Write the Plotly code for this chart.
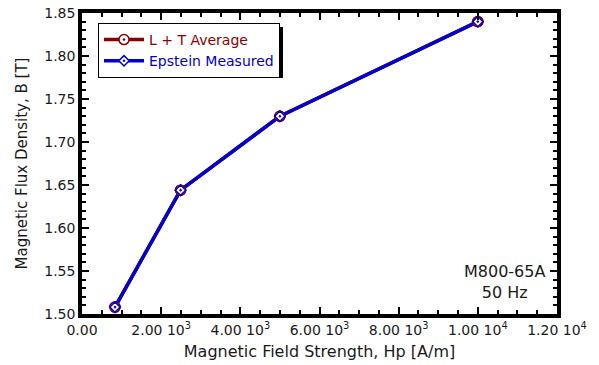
import plotly.graph_objects as go

# Data
H_lt = [833, 2490, 5000, 10000]
B_lt = [1.508, 1.644, 1.730, 1.840]
H_ep = [833, 2490, 5000, 10000]
B_ep = [1.508, 1.644, 1.730, 1.840]

x_tickvals = [0, 2000, 4000, 6000, 8000, 10000, 12000]
x_ticktext = ["0.00", "2.00 10<sup>3</sup>", "4.00 10<sup>3</sup>", "6.00 10<sup>3</sup>",
              "8.00 10<sup>3</sup>", "1.00 10<sup>4</sup>", "1.20 10<sup>4</sup>"]
y_tickvals = [1.50, 1.55, 1.60, 1.65, 1.70, 1.75, 1.80, 1.85]
y_ticktext = ["1.50", "1.55", "1.60", "1.65", "1.70", "1.75", "1.80", "1.85"]

RED = "#8B0000"
BLUE = "#0000CC"
TXT = "#1a1a1a"
FONT = "DejaVu Sans"

fig = go.Figure()
fig.add_trace(go.Scatter(x=H_lt, y=B_lt, mode="lines+markers",
                         name="<span style='color:%s'>L + T Average</span>" % RED,
                         line=dict(color=RED, width=3.5),
                         marker=dict(symbol="circle-dot", size=10, color="white",
                                     line=dict(color=RED, width=1.5))))
fig.add_trace(go.Scatter(x=H_ep, y=B_ep, mode="lines+markers",
                         name="<span style='color:%s'>Epstein Measured</span>" % BLUE,
                         line=dict(color=BLUE, width=3.5),
                         marker=dict(symbol="diamond-dot", size=8, color="white",
                                     line=dict(color=BLUE, width=1.5))))
fig.add_trace(go.Scatter(x=H_lt, y=B_lt, mode="markers", showlegend=False,
                         marker=dict(symbol="circle-dot", size=10, color="white",
                                     line=dict(color=RED, width=1.5))))
fig.add_trace(go.Scatter(x=H_ep, y=B_ep, mode="markers", showlegend=False,
                         marker=dict(symbol="diamond-dot", size=8, color="white",
                                     line=dict(color=BLUE, width=1.5))))

axis_common = dict(showline=True, linecolor="black", linewidth=3.5, mirror="ticks",
                   ticks="inside", ticklen=7, tickwidth=2, tickcolor="black",
                   showgrid=False, zeroline=False, automargin=False,
                   tickfont=dict(family=FONT, size=14, color=TXT))

fig.update_xaxes(range=[0, 12000], tickvals=x_tickvals, ticktext=x_ticktext,
                 title=dict(text="Magnetic Field Strength, Hp [A/m]",
                            font=dict(family=FONT, size=16, color=TXT), standoff=10),
                 minor=dict(dtick=500, ticks="inside", ticklen=4, tickwidth=2, tickcolor="black"),
                 **axis_common)
fig.update_yaxes(range=[1.50, 1.85], tickvals=y_tickvals, ticktext=y_ticktext,
                 title=dict(text="Magnetic Flux Density, B [T]",
                            font=dict(family=FONT, size=15, color=TXT), standoff=14),
                 minor=dict(dtick=0.01, ticks="inside", ticklen=4, tickwidth=2, tickcolor="black"),
                 **axis_common)

# legend shadow
fig.add_shape(type="rect", xref="paper", yref="paper",
              x0=(102 - 82) / 475, x1=(283 - 82) / 475,
              y0=(314 - 78) / 301, y1=(314 - 27) / 301,
              fillcolor="black", line=dict(width=0), layer="above")

fig.add_annotation(text="M800-65A<br>50 Hz", xref="paper", yref="paper",
                   x=(504 - 82) / 475, y=(314 - 282) / 301, showarrow=False,
                   xanchor="center", yanchor="middle",
                   align="center", font=dict(family=FONT, size=16, color=TXT))

fig.update_layout(
    width=599, height=365,
    margin=dict(l=82, r=42, t=13, b=51),
    plot_bgcolor="white", paper_bgcolor="white",
    showlegend=True,
    legend=dict(x=(98 - 82) / 475, y=(314 - 23) / 301, xanchor="left", yanchor="top",
                bgcolor="white", bordercolor="black", borderwidth=1,
                font=dict(family=FONT, size=14), tracegroupgap=0,
                itemwidth=40),
)

fig.write_html("out.html")
